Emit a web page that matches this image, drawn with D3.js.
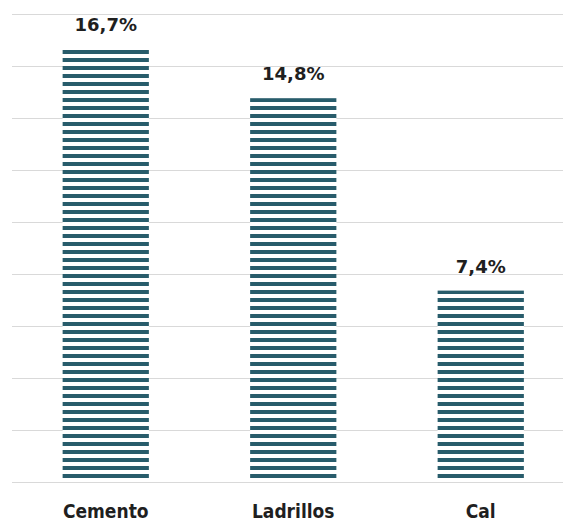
<!DOCTYPE html>
<html>
<head>
<meta charset="utf-8">
<script src="https://cdn.jsdelivr.net/npm/d3@7"></script>
<style>
  html, body { margin: 0; padding: 0; background: #fff; }
  svg { display: block; }
</style>
</head>
<body>
<svg id="chart" width="563" height="524"></svg>
<script>
// Share of each material (%)
const categories = ["Cemento", "Ladrillos", "Cal"];
const values = [16.7, 14.8, 7.4];
const valueLabels = ["16,7%", "14,8%", "7,4%"];
const gridTicks = [0, 2, 4, 6, 8, 10, 12, 14, 16, 18];

const svg = d3.select("#chart");
const barColor = "#285c6b";

const x = d3.scaleBand()
  .domain(categories)
  .range([12, 574.5])
  .paddingInner(0.54)
  .paddingOuter(0.27);

const y = d3.scaleLinear()
  .domain([0, 18])
  .range([483, 15]);

// Horizontal stripe fill
const defs = svg.append("defs");
const pat = defs.append("pattern")
  .attr("id", "stripes")
  .attr("patternUnits", "userSpaceOnUse")
  .attr("x", 0).attr("y", 2)
  .attr("width", 8).attr("height", 8);
pat.append("rect").attr("width", 8).attr("height", 8).attr("fill", "#fff");
pat.append("rect").attr("width", 8).attr("height", 4).attr("fill", barColor);

// Gridlines
svg.append("g")
  .selectAll("line")
  .data(gridTicks)
  .join("line")
  .attr("x1", 12)
  .attr("x2", 574.5)
  .attr("y1", d => Math.round(y(d)) - 0.5)
  .attr("y2", d => Math.round(y(d)) - 0.5)
  .attr("stroke", "#d9d9d9")
  .attr("stroke-width", 1);

// Bars
svg.append("g")
  .selectAll("rect")
  .data(values)
  .join("rect")
  .attr("x", (d, i) => x(categories[i]))
  .attr("width", x.bandwidth())
  .attr("y", d => y(d))
  .attr("height", d => y(0) - 1 - y(d))
  .attr("fill", "url(#stripes)");

// Value labels
svg.append("g")
  .selectAll("text")
  .data(values)
  .join("text")
  .attr("x", (d, i) => x(categories[i]) + x.bandwidth() / 2)
  .attr("y", d => y(d) - 18)
  .attr("text-anchor", "middle")
  .attr("font-family", "'DejaVu Sans', sans-serif")
  .attr("font-weight", "bold")
  .attr("font-size", 18)
  .attr("fill", "#1f1f1f")
  .text((d, i) => valueLabels[i]);

// Category labels
svg.append("g")
  .selectAll("text")
  .data(categories)
  .join("text")
  .attr("x", d => x(d) + x.bandwidth() / 2)
  .attr("y", 518)
  .attr("text-anchor", "middle")
  .attr("font-family", "'DejaVu Sans Condensed', 'DejaVu Sans', sans-serif")
  .attr("font-stretch", "condensed")
  .attr("font-weight", "bold")
  .attr("font-size", 19)
  .attr("fill", "#1f1f1f")
  .text(d => d);
</script>
</body>
</html>
